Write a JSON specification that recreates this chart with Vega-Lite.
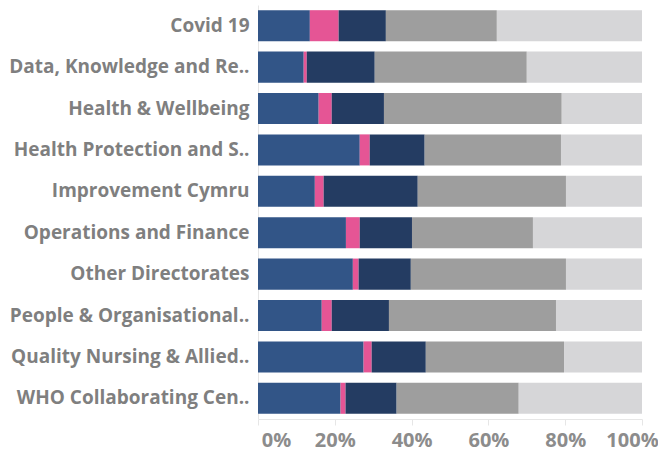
{
  "$schema": "https://vega.github.io/schema/vega-lite/v6.json",
  "autosize": {"type": "none"},
  "padding": {"left": 258, "top": 5, "right": 16, "bottom": 35},
  "width": 384,
  "height": 414,
  "background": "white",
  "config": {"view": {"stroke": null}},
  "data": {"values": [
    {"dept": "Covid 19", "seg": 1, "pct": 13.5},
    {"dept": "Covid 19", "seg": 2, "pct": 7.5},
    {"dept": "Covid 19", "seg": 3, "pct": 12.3},
    {"dept": "Covid 19", "seg": 4, "pct": 28.9},
    {"dept": "Covid 19", "seg": 5, "pct": 37.8},
    {"dept": "Data, Knowledge and Re..", "seg": 1, "pct": 11.9},
    {"dept": "Data, Knowledge and Re..", "seg": 2, "pct": 0.8},
    {"dept": "Data, Knowledge and Re..", "seg": 3, "pct": 17.7},
    {"dept": "Data, Knowledge and Re..", "seg": 4, "pct": 39.6},
    {"dept": "Data, Knowledge and Re..", "seg": 5, "pct": 30.0},
    {"dept": "Health & Wellbeing", "seg": 1, "pct": 15.8},
    {"dept": "Health & Wellbeing", "seg": 2, "pct": 3.4},
    {"dept": "Health & Wellbeing", "seg": 3, "pct": 13.6},
    {"dept": "Health & Wellbeing", "seg": 4, "pct": 46.3},
    {"dept": "Health & Wellbeing", "seg": 5, "pct": 20.9},
    {"dept": "Health Protection and S..", "seg": 1, "pct": 26.5},
    {"dept": "Health Protection and S..", "seg": 2, "pct": 2.6},
    {"dept": "Health Protection and S..", "seg": 3, "pct": 14.3},
    {"dept": "Health Protection and S..", "seg": 4, "pct": 35.5},
    {"dept": "Health Protection and S..", "seg": 5, "pct": 21.1},
    {"dept": "Improvement Cymru", "seg": 1, "pct": 14.8},
    {"dept": "Improvement Cymru", "seg": 2, "pct": 2.3},
    {"dept": "Improvement Cymru", "seg": 3, "pct": 24.5},
    {"dept": "Improvement Cymru", "seg": 4, "pct": 38.6},
    {"dept": "Improvement Cymru", "seg": 5, "pct": 19.8},
    {"dept": "Operations and Finance", "seg": 1, "pct": 22.9},
    {"dept": "Operations and Finance", "seg": 2, "pct": 3.6},
    {"dept": "Operations and Finance", "seg": 3, "pct": 13.6},
    {"dept": "Operations and Finance", "seg": 4, "pct": 31.5},
    {"dept": "Operations and Finance", "seg": 5, "pct": 28.4},
    {"dept": "Other Directorates", "seg": 1, "pct": 24.7},
    {"dept": "Other Directorates", "seg": 2, "pct": 1.5},
    {"dept": "Other Directorates", "seg": 3, "pct": 13.6},
    {"dept": "Other Directorates", "seg": 4, "pct": 40.4},
    {"dept": "Other Directorates", "seg": 5, "pct": 19.8},
    {"dept": "People & Organisational..", "seg": 1, "pct": 16.6},
    {"dept": "People & Organisational..", "seg": 2, "pct": 2.6},
    {"dept": "People & Organisational..", "seg": 3, "pct": 14.9},
    {"dept": "People & Organisational..", "seg": 4, "pct": 43.5},
    {"dept": "People & Organisational..", "seg": 5, "pct": 22.4},
    {"dept": "Quality Nursing & Allied..", "seg": 1, "pct": 27.5},
    {"dept": "Quality Nursing & Allied..", "seg": 2, "pct": 2.1},
    {"dept": "Quality Nursing & Allied..", "seg": 3, "pct": 14.1},
    {"dept": "Quality Nursing & Allied..", "seg": 4, "pct": 36.0},
    {"dept": "Quality Nursing & Allied..", "seg": 5, "pct": 20.3},
    {"dept": "WHO Collaborating Cen..", "seg": 1, "pct": 21.5},
    {"dept": "WHO Collaborating Cen..", "seg": 2, "pct": 1.3},
    {"dept": "WHO Collaborating Cen..", "seg": 3, "pct": 13.3},
    {"dept": "WHO Collaborating Cen..", "seg": 4, "pct": 31.8},
    {"dept": "WHO Collaborating Cen..", "seg": 5, "pct": 32.1}
  ]},
  "mark": {"type": "bar"},
  "encoding": {
    "y": {
      "field": "dept", "type": "nominal", "sort": null, "title": null,
      "scale": {"paddingInner": 0.25, "paddingOuter": 0.125},
      "axis": {
        "ticks": false, "domainColor": "#e6e6e6", "domainWidth": 1,
        "labelFont": "Open Sans", "labelFontWeight": "bold", "labelFontSize": 19,
        "labelColor": "#7f7f7f", "labelPadding": 9, "labelLimit": 300
      }
    },
    "x": {
      "field": "pct", "type": "quantitative", "stack": "normalize", "title": null,
      "scale": {"domain": [0, 1], "nice": false},
      "axis": {
        "values": [0, 0.2, 0.4, 0.6, 0.8, 1], "format": ".0%", "grid": false,
        "domainColor": "#e6e6e6", "tickColor": "#e6e6e6", "tickSize": 6,
        "labelFont": "Open Sans", "labelFontWeight": "bold", "labelFontSize": 20,
        "labelColor": "#8c8c8c", "labelPadding": 5, "labelBaseline": "top",
        "labelFlush": false, "labelBound": false, "labelOverlap": false,
        "labelOffset": {"condition": [{"test": "datum.value == 0", "value": 18}, {"test": "datum.value == 1", "value": -10}], "value": 0}
      }
    },
    "color": {
      "field": "seg", "type": "nominal", "legend": null,
      "scale": {"domain": [1, 2, 3, 4, 5], "range": ["#325587", "#e55595", "#243c62", "#9e9e9e", "#d6d6d8"]}
    },
    "order": {"field": "seg", "type": "quantitative"}
  }
}
